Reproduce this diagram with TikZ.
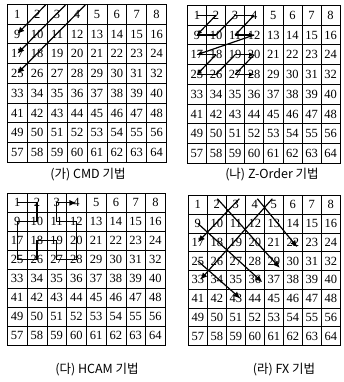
\documentclass[tikz,border=0pt]{standalone}
\usepackage{fontspec}
\setmainfont{Liberation Serif}
\newfontfamily\hangul{Noto Sans CJK KR}
\usetikzlibrary{arrows.meta}

\begin{document}
\begin{tikzpicture}[
    x=1pt, y=-1pt,
    >={Latex[length=7pt,width=6pt]},
    cell/.style 2 args={draw, line width=0.7pt, anchor=north west, inner sep=0pt,
        minimum width=#1, minimum height=#2, font=\fontsize{12.5}{13}\selectfont},
    route/.style={line width=1.2pt},
    small/.style={>={Latex[length=5pt,width=4.5pt]}},
    caption/.style={font=\hangul\fontsize{12.5}{14}\selectfont}
]
\fill[white] (0,0) rectangle (344,382);
\useasboundingbox (0,0) rectangle (344,382);

\foreach \r in {0,...,7}
  \foreach \c in {0,...,7} {
    \pgfmathtruncatemacro\n{8*\r+\c+1}
    \node[cell={19.9pt}{19.75pt}] (a\n) at (7+19.9*\c, 4+19.75*\r) {\n};
    \node[cell={19.1pt}{19.75pt}] (b\n) at (187+19.1*\c, 5+19.75*\r) {\n};
    \node[cell={19.75pt}{19pt}] (c\n) at (7+19.75*\c, 193+19*\r) {\n};
    \node[cell={19pt}{18.75pt}] (d\n) at (188+19*\c, 195+18.75*\r) {\n};
  }

\draw[route,->] ([shift={(-2,1)}]a2.north east) -- (a9.center);
\draw[route,->] ([shift={(-2,1)}]a3.north east) -- (a17.center);
\draw[route,->] ([shift={(-2,1)}]a4.north east) -- (a25.center);

\foreach \p/\q in {1/2, 9/10, 10/3, 3/4, 4/11, 17/18, 25/26, 26/19, 20/27}
  \draw[route] (b\p.center) -- (b\q.center);
\foreach \p/\q in {2/9, 11/12, 12/17, 18/25, 19/20, 27/28}
  \draw[route,small,->] (b\p.center) -- (b\q.center);

\draw[route,->] (c1.center) -- (c2.center) -- (c10.center) -- (c9.center)
  -- (c17.center) -- (c25.center) -- (c26.center) -- (c18.center)
  -- (c19.center) -- (c27.center) -- (c28.center) -- (c20.center)
  -- (c12.center) -- (c11.center) -- (c3.center) -- (c4.center);

\draw[route,->] ([shift={(0.5,-6)}]d2.center) -- ([shift={(6,7)}]d29.center);
\draw[route,->] ([shift={(3.5,-6)}]d3.center) -- (d17.center);
\draw[route,->] ([shift={(2.5,-6)}]d4.center) -- ([shift={(4.5,5)}]d22.center);
\draw[route,->] ([shift={(-1.5,-6)}]d5.center) -- ([shift={(2.5,0)}]d33.center);
\draw[route,->] (d9.center) -- ([shift={(7.5,2.5)}]d36.center);
\draw[route,->] (d25.center) -- ([shift={(4.5,0)}]d43.center);

\node[caption] (capA) at (88,175) {(가) CMD 기법};
\node[caption] (capB) at (272,175) {(나) Z-Order 기법};
\node[caption] (capC) at (97,370) {(다) HCAM 기법};
\node[caption] (capD) at (284,370) {(라) FX 기법};
\end{tikzpicture}
\end{document}
